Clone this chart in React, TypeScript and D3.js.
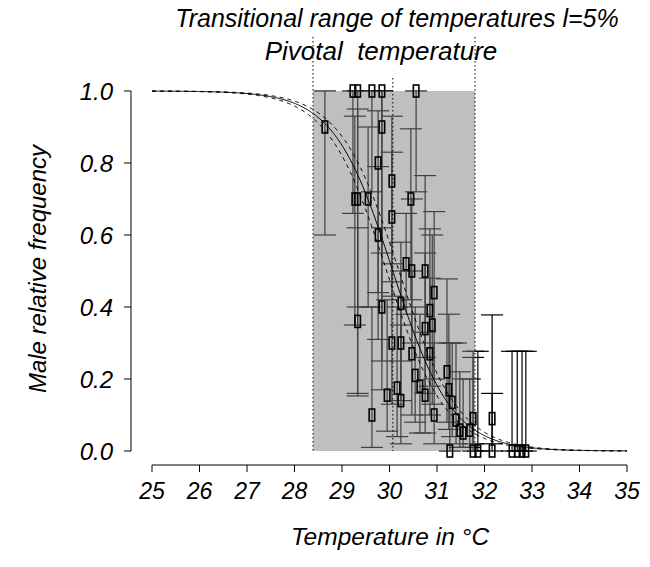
import React from "react";
import * as d3 from "d3";

const temps = [28.64, 29.23, 29.33, 29.63, 29.84, 30.56, 29.84, 29.76, 30.05, 29.27, 29.33, 29.55, 30.45, 30.05, 29.76, 30.35, 30.47, 30.75, 30.94, 30.85, 30.9, 30.75, 30.24, 29.84, 29.33, 30.05, 30.24, 30.47, 30.85, 30.54, 30.64, 30.75, 29.95, 30.16, 30.24, 29.63, 31.21, 31.25, 31.32, 30.94, 31.4, 31.48, 31.55, 31.69, 31.27, 31.76, 31.86, 32.16, 31.76, 32.16, 32.58, 32.69, 32.79, 32.87];
const freqs = [0.9, 1.0, 1.0, 1.0, 1.0, 1.0, 0.9, 0.8, 0.75, 0.7, 0.7, 0.7, 0.7, 0.65, 0.6, 0.52, 0.5, 0.5, 0.44, 0.39, 0.35, 0.34, 0.41, 0.4, 0.36, 0.3, 0.3, 0.27, 0.27, 0.21, 0.18, 0.155, 0.155, 0.175, 0.14, 0.1, 0.22, 0.17, 0.135, 0.1, 0.086, 0.058, 0.05, 0.058, 0.0, 0.0, 0.0, 0.0, 0.09, 0.09, 0.0, 0.0, 0.0, 0.0];
const lows = [0.6, 0.66, 0.16, 0.72, 0.25, 0.72, 0.55, 0.44, 0.47, 0.35, 0.4, 0.4, 0.42, 0.43, 0.31, 0.38, 0.3, 0.26, 0.2, 0.18, 0.13, 0.16, 0.25, 0.17, 0.153, 0.13, 0.14, 0.1, 0.1, 0.08, 0.05, 0.05, 0.055, 0.04, 0.02, 0.01, 0.08, 0.06, 0.04, 0.02, 0.02, 0.01, 0.01, 0.01, 0.0, 0.0, 0.0, 0.0, 0.02, 0.02, 0.0, 0.0, 0.0, 0.0];
const highs = [1.0, 1.0, 1.0, 1.0, 1.0, 1.0, 1.0, 0.945, 0.93, 0.93, 0.95, 0.9, 0.895, 0.83, 0.79, 0.66, 0.7, 0.765, 0.665, 0.617, 0.6, 0.55, 0.58, 0.62, 0.62, 0.52, 0.5, 0.5, 0.48, 0.4, 0.38, 0.33, 0.42, 0.4, 0.35, 0.4, 0.478, 0.38, 0.3, 0.3, 0.3, 0.22, 0.2, 0.2, 0.3, 0.277, 0.277, 0.16, 0.26, 0.378, 0.277, 0.277, 0.277, 0.277];

const xTicks = [25, 26, 27, 28, 29, 30, 31, 32, 33, 34, 35];
const yTicks = [0, 0.2, 0.4, 0.6, 0.8, 1.0];
const pivotal = 30.07;
const trtLow = 28.39;
const trtHigh = 31.8;
const slope = 0.62;
const pivotalLow = 29.94;
const pivotalHigh = 30.2;

const FONT = "'Liberation Sans', Arial, Helvetica, sans-serif";

export default function App() {
  const W = 650, H = 567;
  const x = d3.scaleLinear().domain([25, 35]).range([152, 627]);
  const y = d3.scaleLinear().domain([0, 1]).range([451, 91]);
  const grid = d3.range(25, 35.001, 0.02);
  const logistic = (P: number) => (t: number) => 1 / (1 + Math.exp((t - P) / slope));
  const line = (P: number) =>
    d3.line<number>().x((t) => x(t)).y((t) => y(logistic(P)(t)))(grid) || "";
  const cap = 11;
  return (
    <svg width={W} height={H} style={{ position: "absolute", left: 0, top: 0, background: "#fff" }}
      fontFamily={FONT} fontStyle="italic">
      {/* error bars */}
      <g stroke="#000" strokeWidth={1.2} fill="none">
        {temps.map((t, i) => (
          <g key={i}>
            <line x1={x(t)} x2={x(t)} y1={y(lows[i])} y2={y(highs[i])} />
            <line x1={x(t) - cap} x2={x(t) + cap} y1={y(lows[i])} y2={y(lows[i])} />
            <line x1={x(t) - cap} x2={x(t) + cap} y1={y(highs[i])} y2={y(highs[i])} />
          </g>
        ))}
      </g>
      {/* transitional range */}
      <rect x={x(trtLow)} y={y(1)} width={x(trtHigh) - x(trtLow)} height={y(0) - y(1)}
        fill="#808080" fillOpacity={0.5} />
      {/* points */}
      <g stroke="#000" strokeWidth={1.6} fill="none">
        {temps.map((t, i) => (
          <rect key={i} x={x(t) - 2.75} y={y(freqs[i]) - 6} width={5.5} height={12} />
        ))}
      </g>
      {/* curves */}
      <path d={line(pivotal)} fill="none" stroke="#000" strokeWidth={1} />
      <path d={line(pivotalLow)} fill="none" stroke="#000" strokeWidth={1} strokeDasharray="4,4" />
      <path d={line(pivotalHigh)} fill="none" stroke="#000" strokeWidth={1} strokeDasharray="4,4" />
      {/* vertical dotted lines */}
      <g stroke="#000" strokeWidth={1} strokeDasharray="1.5,2.5">
        <line x1={x(trtLow)} x2={x(trtLow)} y1={37} y2={y(0)} />
        <line x1={x(trtHigh)} x2={x(trtHigh)} y1={37} y2={y(0)} />
        <line x1={x(pivotal)} x2={x(pivotal)} y1={78} y2={y(0)} />
      </g>
      {/* y axis */}
      <g stroke="#000" strokeWidth={1}>
        <line x1={131} x2={131} y1={y(0)} y2={y(1)} />
        {yTicks.map((v) => (
          <line key={v} x1={124} x2={131} y1={y(v)} y2={y(v)} />
        ))}
      </g>
      {yTicks.map((v) => (
        <text key={v} x={113} y={y(v)} dy="0.36em" textAnchor="end" fontSize={24}>
          {d3.format(".1f")(v)}
        </text>
      ))}
      {/* x axis */}
      <g stroke="#000" strokeWidth={1}>
        <line x1={x(25)} x2={x(35)} y1={465} y2={465} />
        {xTicks.map((v) => (
          <line key={v} x1={x(v)} x2={x(v)} y1={465} y2={472} />
        ))}
      </g>
      {xTicks.map((v) => (
        <text key={v} x={x(v)} y={499} textAnchor="middle" fontSize={23}>
          {v}
        </text>
      ))}
      <text x={390} y={545} textAnchor="middle" fontSize={24.5}>Temperature in °C</text>
      <text transform={`translate(46,269) rotate(-90)`} textAnchor="middle" fontSize={24}>
        Male relative frequency
      </text>
      <text x={397} y={27} textAnchor="middle" fontSize={25}>Transitional range of temperatures l=5%</text>
      <text x={381} y={60} textAnchor="middle" fontSize={26} style={{ whiteSpace: "pre" }}>Pivotal  temperature</text>
    </svg>
  );
}
